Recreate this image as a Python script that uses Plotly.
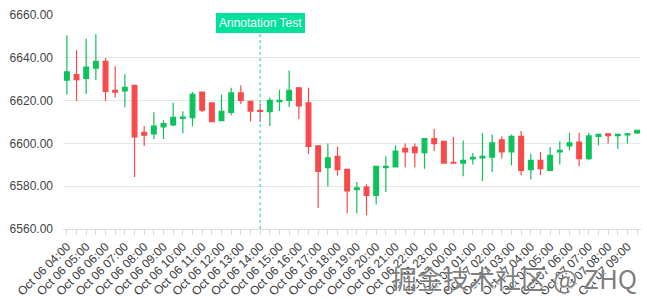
import plotly.graph_objects as go

times = [
    "Oct 06 04:00", "Oct 06 04:30", "Oct 06 05:00", "Oct 06 05:30", "Oct 06 06:00", "Oct 06 06:30",
    "Oct 06 07:00", "Oct 06 07:30", "Oct 06 08:00", "Oct 06 08:30", "Oct 06 09:00", "Oct 06 09:30",
    "Oct 06 10:00", "Oct 06 10:30", "Oct 06 11:00", "Oct 06 11:30", "Oct 06 12:00", "Oct 06 12:30",
    "Oct 06 13:00", "Oct 06 13:30", "Oct 06 14:00", "Oct 06 14:30", "Oct 06 15:00", "Oct 06 15:30",
    "Oct 06 16:00", "Oct 06 16:30", "Oct 06 17:00", "Oct 06 17:30", "Oct 06 18:00", "Oct 06 18:30",
    "Oct 06 19:00", "Oct 06 19:30", "Oct 06 20:00", "Oct 06 20:30", "Oct 06 21:00", "Oct 06 21:30",
    "Oct 06 22:00", "Oct 06 22:30", "Oct 06 23:00", "Oct 06 23:30", "Oct 07 00:00", "Oct 07 00:30",
    "Oct 07 01:00", "Oct 07 01:30", "Oct 07 02:00", "Oct 07 02:30", "Oct 07 03:00", "Oct 07 03:30",
    "Oct 07 04:00", "Oct 07 04:30", "Oct 07 05:00", "Oct 07 05:30", "Oct 07 06:00", "Oct 07 06:30",
    "Oct 07 07:00", "Oct 07 07:30", "Oct 07 08:00", "Oct 07 08:30", "Oct 07 09:00", "Oct 07 09:30",
]

open_ = [6629.5, 6632.1, 6630.4, 6635.2, 6638.3, 6624.8, 6624.5, 6627.1, 6605.2, 6604.4,
         6607.7, 6608.6, 6611.7, 6612.0, 6624.0, 6618.9, 6610.6, 6614.5, 6623.6, 6619.7,
         6615.5, 6614.8, 6619.5, 6620.1, 6626.0, 6619.0, 6598.9, 6588.7, 6593.9, 6587.9,
         6578.4, 6579.6, 6575.7, 6588.7, 6589.0, 6597.7, 6598.3, 6595.7, 6602.2, 6601.0,
         6591.1, 6590.8, 6592.8, 6593.2, 6593.6, 6601.7, 6596.0, 6603.3, 6587.7, 6592.1,
         6587.4, 6596.0, 6598.8, 6600.6, 6592.9, 6603.3, 6604.5, 6603.6, 6604.0, 6604.9]
close = [6633.4, 6629.8, 6635.7, 6638.3, 6624.3, 6624.0, 6626.2, 6603.0, 6603.8, 6608.1,
         6609.2, 6612.2, 6612.3, 6622.9, 6615.5, 6610.2, 6615.0, 6623.6, 6620.1, 6615.1,
         6615.0, 6620.1, 6620.1, 6624.8, 6617.5, 6598.6, 6586.9, 6593.3, 6587.7, 6577.8,
         6579.2, 6575.7, 6589.3, 6589.3, 6596.4, 6596.0, 6595.7, 6602.2, 6599.9, 6590.8,
         6590.8, 6592.1, 6593.5, 6594.0, 6600.2, 6596.0, 6603.3, 6587.4, 6592.1, 6588.2,
         6594.4, 6596.8, 6600.3, 6592.9, 6603.5, 6604.2, 6603.6, 6604.2, 6604.5, 6606.1]
high = [6650.5, 6643.5, 6648.9, 6651.0, 6639.9, 6636.0, 6632.3, 6627.4, 6608.0, 6614.5,
        6610.8, 6619.0, 6615.0, 6624.0, 6624.0, 6618.9, 6622.8, 6626.0, 6627.1, 6620.1,
        6618.6, 6621.4, 6625.1, 6634.1, 6626.0, 6626.0, 6598.9, 6599.9, 6598.6, 6588.2,
        6582.0, 6580.9, 6589.3, 6594.0, 6599.1, 6599.9, 6599.9, 6602.2, 6606.9, 6601.2,
        6603.0, 6601.4, 6595.5, 6604.9, 6604.2, 6603.3, 6604.2, 6605.8, 6595.2, 6596.0,
        6598.3, 6601.0, 6605.0, 6605.0, 6605.0, 6604.6, 6604.6, 6604.2, 6604.9, 6606.3]
low = [6622.8, 6619.8, 6623.1, 6629.5, 6619.8, 6621.5, 6616.9, 6584.3, 6598.8, 6602.1,
       6602.0, 6608.0, 6604.8, 6608.0, 6614.7, 6609.8, 6610.3, 6613.1, 6618.3, 6610.2,
       6610.0, 6608.1, 6615.1, 6617.0, 6611.4, 6595.2, 6569.8, 6579.9, 6584.9, 6567.2,
       6567.2, 6566.4, 6571.5, 6577.3, 6589.0, 6588.7, 6588.7, 6588.2, 6596.4, 6590.5,
       6590.8, 6584.6, 6590.1, 6582.4, 6586.6, 6592.9, 6589.7, 6585.1, 6583.2, 6585.1,
       6587.0, 6590.1, 6596.7, 6589.3, 6592.1, 6599.1, 6599.9, 6597.5, 6599.9, 6604.3]

y_ticks = [6560, 6580, 6600, 6620, 6640, 6660]
marker_time = "Oct 06 14:00"
marker_text = "Annotation Test"
watermark = "掘金技术社区 @ ZHQ"

UP = "#0ec25b"
DOWN = "#f84a4a"

fig = go.Figure()
fig.add_trace(go.Candlestick(
    x=times, open=open_, high=high, low=low, close=close,
    increasing=dict(line=dict(color=UP, width=1.2), fillcolor=UP),
    decreasing=dict(line=dict(color=DOWN, width=1.2), fillcolor=DOWN),
    whiskerwidth=0, hoverinfo="skip", showlegend=False,
))

tickvals = times
ticktext = [t if i % 2 == 0 else "" for i, t in enumerate(times)]

fig.update_layout(
    width=647, height=306,
    margin=dict(l=63, r=6, t=15, b=77),
    paper_bgcolor="white", plot_bgcolor="white",
    font=dict(family="Liberation Sans, Arial, sans-serif", color="#444"),
    xaxis=dict(
        type="category", range=[-0.4, 59.4],
        rangeslider=dict(visible=False),
        tickmode="array", tickvals=tickvals, ticktext=ticktext,
        tickangle=-45, tickfont=dict(size=12, color="#3a3a3a"),
        ticks="outside", ticklen=5, tickcolor="#d8d8d8",
        showgrid=False, showline=True, linecolor="#dcdcdc", linewidth=1,
        zeroline=False, fixedrange=True,
    ),
    yaxis=dict(
        range=[6560, 6660], tickmode="array", tickvals=y_ticks,
        ticktext=[f"{v:.2f}" for v in y_ticks],
        tickfont=dict(size=12, color="#444"),
        showgrid=True, gridcolor="#e6e6e6", gridwidth=1,
        zeroline=False, showline=False, ticks="", ticklabelstandoff=9,
    ),
)

fig.add_shape(type="line", xref="x", yref="paper",
              x0=marker_time, x1=marker_time, y0=0, y1=0.95,
              line=dict(color="#3fd6c0", width=1.2, dash="dot"), layer="above")

fig.add_annotation(x=marker_time, xref="x", y=1, yref="paper", yanchor="top", yshift=2.5,
                   text=marker_text, showarrow=False,
                   font=dict(size=12, color="white"),
                   bgcolor="#00e19c", borderpad=3, borderwidth=0)

fig.add_annotation(x=0.78, xref="paper", y=-0.228, yref="paper",
                   xanchor="center", yanchor="middle", text=watermark, showarrow=False,
                   font=dict(size=26, color="rgba(120,120,120,0.95)",
                             family="Noto Sans CJK SC, Liberation Sans, sans-serif",
                             shadow="1px 1px 1px white"))

fig.write_html("out.html")
